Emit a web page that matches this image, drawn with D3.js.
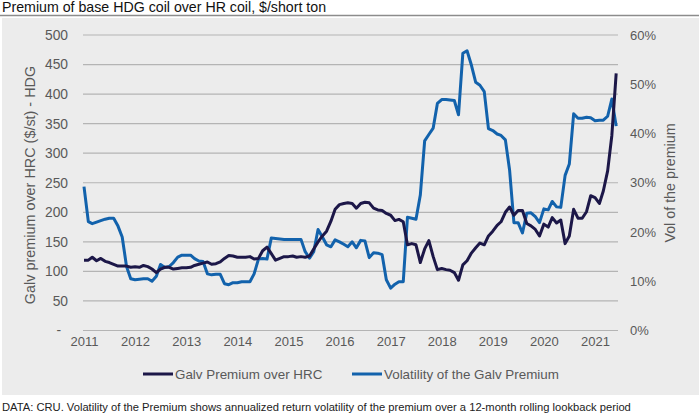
<!DOCTYPE html>
<html>
<head>
<meta charset="utf-8">
<script src="https://cdn.jsdelivr.net/npm/d3@7"></script>
<style>
  body { margin: 0; background: #fff; }
  svg text { font-family: "Liberation Sans", Arial, sans-serif; }
</style>
</head>
<body>
<div id="chart"></div>
<script>
// monthly data, Jan 2011 onwards
const startYear = 2011;
const premium = [
  119, 119, 124, 118, 122, 117, 115, 112, 109, 109, 109, 107,
  108, 107, 110, 108, 104, 98, 104, 107, 107, 104, 105, 106,
  106, 107, 110, 112, 114, 116, 112, 113, 116, 122, 127, 126,
  124, 124, 124, 125, 121, 122, 135, 141, 130, 119, 122, 125,
  125, 126, 124, 125, 124, 126, 138, 150, 160, 168, 185, 205,
  213, 215, 216, 215, 207, 215, 217, 216, 207, 204, 203, 198,
  195, 186, 188, 184, 145, 147, 145, 115, 138, 152, 125, 103,
  105, 103, 102, 98, 85, 111, 118, 131, 140, 148, 145, 160,
  168, 178, 184, 200, 209, 195, 203, 203, 181, 177, 171, 160,
  180, 175, 191, 182, 187, 147, 160, 205, 190, 190, 201, 228,
  225, 215, 236, 270, 330, 435
];
const volatility = [
  29.2, 22.1, 21.7, 22.0, 22.3, 22.6, 22.8, 22.8, 21.2, 19.0, 13.0, 10.5,
  10.3, 10.4, 10.5, 10.5, 10.0, 11.0, 13.4, 12.8, 13.0, 13.8, 14.9, 15.3,
  15.3, 15.3, 14.6, 14.1, 14.0, 11.5, 11.3, 11.4, 11.4, 9.5, 9.3, 9.7,
  9.7, 9.9, 9.9, 9.9, 11.5, 14.5, 14.6, 14.5, 18.8, 18.7, 18.6, 18.5,
  18.5, 18.5, 18.5, 18.5, 16.0, 14.7, 16.0, 20.5, 19.0, 17.4, 17.0, 18.4,
  18.0, 17.5, 17.0, 18.0, 16.8, 18.3, 18.2, 14.8, 15.8, 15.7, 15.4, 10.3,
  8.6, 9.4, 9.9, 9.9, 23.0, 22.8, 22.6, 27.5, 38.5, 39.8, 41.1, 46.1,
  46.9, 46.9, 46.8, 46.7, 43.8, 56.3, 56.8, 53.9, 50.4, 49.8, 48.5, 41.0,
  40.6, 39.9, 39.6, 38.7, 32.6, 21.9, 21.9, 19.8, 23.8, 23.9, 23.1, 21.9,
  24.7, 24.5, 26.2, 25.1, 25.0, 31.5, 33.8, 44.0, 43.1, 43.1, 43.3, 43.2,
  42.6, 42.7, 42.7, 43.5, 47.0, 41.5
];
const yearTicks = [2011, 2012, 2013, 2014, 2015, 2016, 2017, 2018, 2019, 2020, 2021];
const leftTicks = [0, 50, 100, 150, 200, 250, 300, 350, 400, 450, 500];
const rightTicks = [0, 10, 20, 30, 40, 50, 60];
const seriesNames = ["Galv Premium over HRC", "Volatility of the Galv Premium"];

const svgWidth = 699;
const svgHeight = 414;
const colPrem = "#1c1748";
const colVol = "#1262ac";
const textCol = "#595959";

const svg = d3.select("#chart").append("svg")
  .attr("width", svgWidth)
  .attr("height", svgHeight);

// title + rule
svg.append("text")
  .attr("x", 2).attr("y", 12)
  .attr("font-size", 14.2)
  .attr("fill", "#111")
  .text("Premium of base HDG coil over HR coil, $/short ton");

svg.append("line")
  .attr("x1", 0).attr("x2", svgWidth)
  .attr("y1", 15.5).attr("y2", 15.5)
  .attr("stroke", "#8c8c8c").attr("stroke-width", 1.5);

// panel background
svg.append("rect")
  .attr("x", 2).attr("y", 18)
  .attr("width", 697).attr("height", 377)
  .attr("fill", "#ececec");

const dates = premium.map((d, i) => new Date(startYear, i, 1));

const x = d3.scaleTime()
  .domain([new Date(2011, 0, 1), new Date(2021, 5, 14)])
  .range([84, 618]);
const yL = d3.scaleLinear().domain([0, 500]).range([330.5, 35]);
const yR = d3.scaleLinear().domain([0, 60]).range([330.5, 35]);

// gridlines
svg.append("g")
  .selectAll("line")
  .data(leftTicks)
  .join("line")
  .attr("x1", 83).attr("x2", 618)
  .attr("y1", d => yL(d)).attr("y2", d => yL(d))
  .attr("stroke", "#b4b4b4").attr("stroke-width", 1.2);

// left axis
const leftAxis = d3.axisLeft(yL)
  .tickValues(leftTicks)
  .tickSize(0)
  .tickPadding(0)
  .tickFormat(d => d === 0 ? "-" : d);
const gL = svg.append("g").attr("transform", "translate(68,0)").call(leftAxis);
gL.select(".domain").remove();
gL.selectAll("text")
  .attr("font-size", 13.8).attr("fill", textCol)
  .attr("dx", d => d === 0 ? -7 : 0);

// right axis
const rightAxis = d3.axisRight(yR)
  .tickValues(rightTicks)
  .tickSize(0)
  .tickPadding(0)
  .tickFormat(d => d + "%");
const gR = svg.append("g").attr("transform", "translate(630,0)").call(rightAxis);
gR.select(".domain").remove();
gR.selectAll("text").attr("font-size", 13).attr("fill", textCol);

// bottom axis
const bottomAxis = d3.axisBottom(x)
  .tickValues(yearTicks.map(y => new Date(y, 0, 1)))
  .tickSize(0)
  .tickPadding(0)
  .tickFormat(d3.timeFormat("%Y"));
const gB = svg.append("g").attr("transform", "translate(0,337)").call(bottomAxis);
gB.select(".domain").remove();
gB.selectAll("text").attr("font-size", 13).attr("fill", textCol);

// axis titles
svg.append("text")
  .attr("transform", "translate(35,185) rotate(-90)")
  .attr("text-anchor", "middle")
  .attr("font-size", 14.4).attr("fill", textCol)
  .text("Galv premium over HRC ($/st) - HDG");

svg.append("text")
  .attr("transform", "translate(675,183) rotate(-90)")
  .attr("text-anchor", "middle")
  .attr("font-size", 14.3).attr("fill", textCol)
  .text("Vol of the premium");

// lines
const linePrem = d3.line()
  .x((d, i) => x(dates[i]))
  .y(d => yL(d));
const lineVol = d3.line()
  .x((d, i) => x(dates[i]))
  .y(d => yR(d));

svg.append("path")
  .datum(volatility)
  .attr("d", lineVol)
  .attr("fill", "none")
  .attr("stroke", colVol).attr("stroke-width", 3)
  .attr("stroke-linejoin", "round");

svg.append("path")
  .datum(premium)
  .attr("d", linePrem)
  .attr("fill", "none")
  .attr("stroke", colPrem).attr("stroke-width", 3)
  .attr("stroke-linejoin", "round");

// legend
const legend = [
  { name: seriesNames[0], color: colPrem, x: 143 },
  { name: seriesNames[1], color: colVol, x: 352 }
];
const lg = svg.append("g").selectAll("g")
  .data(legend)
  .join("g")
  .attr("transform", d => `translate(${d.x},374)`);
lg.append("line")
  .attr("x1", 0).attr("x2", 30)
  .attr("stroke", d => d.color).attr("stroke-width", 3);
lg.append("text")
  .attr("x", 32).attr("dy", "0.35em")
  .attr("font-size", 13.4).attr("fill", textCol)
  .text(d => d.name);

// footnote
svg.append("text")
  .attr("x", 2).attr("y", 411)
  .attr("font-size", 11.2)
  .attr("fill", "#222")
  .text("DATA: CRU. Volatility of the Premium shows annualized return volatility of the premium over a 12-month rolling lookback period");
</script>
</body>
</html>
